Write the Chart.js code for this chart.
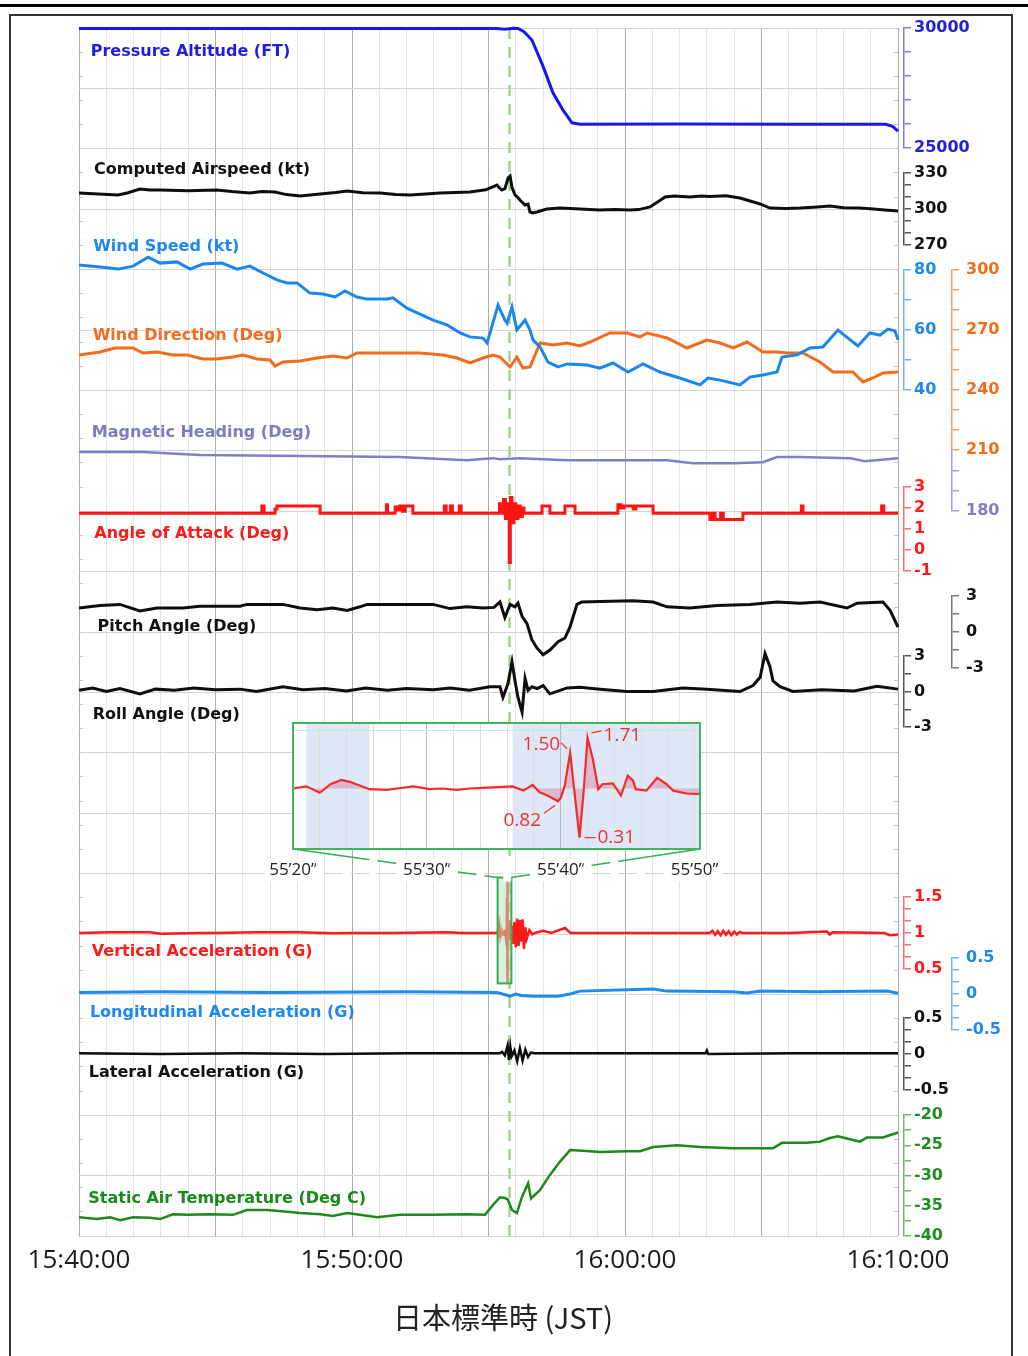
<!DOCTYPE html>
<html>
<head>
<meta charset="utf-8">
<title>FDR 15:40-16:10 JST</title>
<script src="https://cdn.jsdelivr.net/npm/chart.js@4.4.1/dist/chart.umd.min.js"></script>
<style>
	body { margin: 0; background: #fff; }
	#page { position: relative; width: 1028px; height: 1356px; overflow: hidden; }
	#rule { position: absolute; left: 0; top: 4px; width: 1028px; height: 3px; background: #000; }
	#frame { position: absolute; left: 9px; top: 14px; width: 1000px; height: 1400px; border: 2px solid #333; }
	#main { position: absolute; left: 0; top: 0; width: 1028px; height: 1356px; }
	#zoom { position: absolute; left: 262px; top: 715px; width: 470px; height: 172px; }
</style>
</head>
<body>
<div id="page">
	<div id="rule"></div>
	<div id="frame"></div>
	<div id="main"><canvas id="c1"></canvas></div>
	<div id="zoom"><canvas id="c2"></canvas></div>
</div>
<script>
// time axis: minutes after 15:40:00 JST
const timeTickMin = [0, 10, 20, 30]
const timeTickLabels = ['15:40:00', '15:50:00', '16:00:00', '16:10:00']
const eventMin = 15.77

// pressure altitude (ft)
const altT = [0, 15.3, 15.6, 15.9, 16.08, 16.3, 16.59, 17.0, 17.36, 17.73, 18.06, 18.35, 22.0, 26.0, 29.55, 29.8, 30]
const altV = [29980, 29980, 29950, 29990, 29980, 29850, 29500, 28400, 27300, 26580, 26050, 25990, 26000, 25990, 25990, 25900, 25700]
const altTicks = [25000, 26000, 27000, 28000, 29000, 30000]
const altTickLabels = [25000, 30000]

// computed airspeed (kt)
const casT = [0, 0.7, 1.43, 1.8, 2.23, 2.6, 2.97, 4.0, 5.05, 5.6, 6.26, 6.7, 7.18, 7.6, 8.1, 8.83, 9.4, 9.82, 10.4, 11.03, 11.6, 12.12, 12.7, 13.22, 13.8, 14.32, 14.9, 15.31, 15.4, 15.49, 15.6, 15.72, 15.79, 15.86, 15.97, 16.08, 16.15, 16.34, 16.45, 16.52, 16.63, 16.78, 16.89, 17.14, 17.62, 18.35, 19.08, 19.6, 20.18, 20.5, 20.92, 21.47, 21.8, 22.38, 22.8, 23.11, 23.7, 24.21, 24.95, 25.31, 25.9, 26.41, 26.9, 27.51, 28.0, 28.61, 29.1, 29.52, 30]
const casV = [313.3, 312.5, 311.7, 313.5, 316.7, 315.8, 315.8, 315.3, 315.8, 314.5, 313.3, 314.5, 314.2, 312.0, 310.8, 312.5, 313.8, 315.0, 313.5, 313.3, 312.0, 311.7, 312.5, 313.3, 313.8, 314.2, 316.0, 320.0, 317.5, 315.8, 317.0, 326.0, 327.5, 318.0, 311.7, 309.5, 307.5, 303.3, 304.0, 297.5, 296.7, 297.5, 298.3, 300.0, 300.8, 300.0, 299.2, 299.5, 299.2, 299.5, 301.7, 310.0, 310.8, 310.0, 310.8, 310.5, 311.0, 309.2, 304.2, 300.8, 300.5, 300.8, 301.5, 302.5, 301.0, 300.8, 300.0, 299.2, 298.3]
const casTicks = [270, 280, 290, 300, 310, 320, 330]
const casTickLabels = [270, 300, 330]

// wind speed (kt)
const wsT = [0, 0.77, 1.43, 1.98, 2.53, 2.97, 3.59, 4.07, 4.54, 5.24, 5.79, 6.26, 6.74, 7.25, 7.62, 7.99, 8.46, 8.94, 9.38, 9.74, 10.18, 10.55, 11.28, 11.5, 12.01, 12.49, 12.97, 13.48, 13.96, 14.32, 14.8, 14.95, 15.35, 15.6, 15.68, 15.86, 16.04, 16.34, 16.52, 16.63, 16.89, 17.18, 17.55, 17.88, 18.61, 19.08, 19.56, 20.11, 20.66, 21.28, 22.01, 22.75, 23.04, 23.48, 24.21, 24.58, 25.05, 25.57, 25.75, 26.3, 26.78, 27.25, 27.8, 28.17, 28.53, 28.97, 29.34, 29.63, 29.89, 30]
const wsV = [81.7, 81, 80.3, 81.3, 84.3, 82.3, 82.7, 80.3, 82, 82.3, 80.3, 81.3, 79, 76.7, 75.7, 75.7, 72.3, 72, 71, 73, 71, 70.3, 70.3, 70.7, 67.3, 65.3, 63.3, 61.7, 59, 57.7, 57.3, 55.7, 68.3, 63.3, 62.3, 67.7, 60, 63.3, 60, 56.7, 54.3, 49.3, 47.7, 48.7, 48.3, 47.3, 49, 46, 48.7, 46, 44, 41.7, 44, 43.3, 41.7, 44.3, 45, 46, 51, 51.7, 54, 54.3, 60, 57.3, 54.7, 59, 58.3, 60.3, 59.7, 56.7]
const wsTicks = [40, 50, 60, 70, 80]
const wsTickLabels = [40, 60, 80]

// wind direction (deg)
const wdT = [0, 0.77, 1.32, 1.98, 2.34, 2.86, 3.44, 3.96, 4.54, 5.05, 5.64, 6.01, 6.52, 7.0, 7.18, 7.47, 8.1, 8.72, 9.3, 9.82, 10.18, 10.77, 11.76, 12.49, 13.33, 13.85, 14.32, 14.8, 15.16, 15.42, 15.53, 15.79, 16.04, 16.26, 16.52, 16.89, 17.36, 17.88, 18.35, 18.72, 19.45, 20.07, 20.55, 20.81, 21.54, 22.27, 23.0, 23.48, 23.96, 24.47, 25.05, 25.57, 25.93, 26.52, 27.14, 27.62, 28.35, 28.72, 29.08, 29.45, 30]
const wdV = [257.5, 259, 261, 261, 258.5, 259, 257.5, 257.5, 255.5, 255.5, 256.5, 257.5, 255.5, 255, 252, 254, 254.5, 256, 257, 256, 258.5, 258.5, 258.5, 258.5, 257.5, 256, 253.5, 256, 257.5, 256.5, 255, 251.5, 256.5, 251, 251.5, 263.5, 262.5, 263.5, 262, 264, 268.5, 268.5, 266.5, 268.5, 266, 261, 265, 263.5, 261, 264, 259, 259, 258.5, 258.5, 254, 249, 249, 244, 246, 248.5, 249]
const wdTicks = [210, 220, 230, 240, 250, 260, 270, 280, 290, 300]
const wdTickLabels = [210, 240, 270, 300]

// magnetic heading (deg)
const hdgT = [0, 2.34, 4.43, 8.1, 11.76, 14.21, 15.16, 15.42, 16.15, 17.88, 21.54, 22.49, 23.96, 25.05, 25.57, 26.41, 28.24, 28.79, 30]
const hdgV = [209, 209, 207.5, 207, 206.5, 205, 206, 205.5, 206, 205, 205, 203.5, 203.5, 204, 206.5, 206.5, 206, 204.5, 206]
const hdgTicks = [180, 190, 200]
const hdgTickLabels = [180]

// angle of attack (deg), sampled steps
const aoaT = [0, 6.70, 6.78, 7.18, 7.25, 8.83, 11.26, 11.30, 11.58, 11.66, 11.75, 11.85, 11.95, 12.23, 13.38, 13.45, 13.60, 13.68, 13.93, 14.0, 15.40, 15.45, 15.55, 15.62, 15.70, 15.76, 15.80, 15.86, 15.93, 16.00, 16.08, 16.16, 16.24, 16.30, 16.96, 17.25, 17.80, 18.17, 19.74, 19.85, 19.95, 20.3, 20.4, 21.03, 23.11, 23.2, 23.3, 23.5, 23.6, 24.32, 26.46, 26.52, 29.40, 29.48, 30]
const aoaV = [1.75, 2.1, 1.75, 1.95, 2.1, 1.75, 2.15, 1.75, 2.05, 1.9, 2.1, 1.85, 2.1, 1.75, 2.1, 1.75, 2.1, 1.75, 2.1, 1.75, 2.2, 1.75, 2.4, 1.5, 2.2, -0.6, 2.5, 1.3, 2.2, 1.5, 2.1, 1.6, 2.0, 1.75, 2.1, 1.75, 2.1, 1.75, 2.15, 2.0, 2.1, 1.95, 2.1, 1.75, 1.45, 1.75, 1.45, 1.75, 1.45, 1.75, 2.1, 1.75, 2.1, 1.75, 1.75]
const aoaTicks = [-1, 0, 1, 2, 3]
const aoaTickLabels = [-1, 0, 1, 2, 3]

// pitch angle (deg)
const pitT = [0, 0.77, 1.5, 2.23, 2.86, 3.81, 4.43, 5.9, 6.15, 7.47, 8.1, 8.72, 9.3, 9.82, 10.29, 10.55, 12.97, 13.59, 14.21, 14.8, 15.2, 15.42, 15.6, 15.79, 15.97, 16.08, 16.23, 16.41, 16.59, 16.78, 17.0, 17.25, 17.55, 17.8, 17.99, 18.24, 18.42, 19.08, 20.29, 21.03, 21.54, 22.38, 23.37, 24.58, 25.57, 26.41, 27.14, 28.13, 28.5, 29.45, 29.71, 30]
const pitV = [2.0, 2.2, 2.3, 1.75, 2.0, 2.0, 2.15, 2.15, 2.3, 2.3, 2.0, 1.85, 2.0, 1.8, 2.1, 2.3, 2.3, 1.95, 2.1, 2.0, 2.05, 2.5, 1.2, 2.3, 2.1, 2.4, 1.3, 0.7, -0.65, -1.35, -1.9, -1.5, -0.8, -0.5, 0.45, 2.3, 2.5, 2.55, 2.6, 2.5, 2.1, 2.0, 2.2, 2.3, 2.5, 2.4, 2.5, 2.0, 2.4, 2.5, 1.8, 0.4]
const pitTicks = [-3, -1.5, 0, 1.5, 3]
const pitTickLabels = [-3, 0, 3]

// roll angle (deg)
const rolT = [0, 0.5, 1.0, 1.5, 2.23, 2.8, 3.5, 4.2, 5.0, 5.9, 6.5, 7.47, 8.2, 9.0, 9.8, 10.5, 11.3, 12.0, 12.97, 13.6, 14.3, 15.05, 15.42, 15.53, 15.71, 15.86, 15.97, 16.08, 16.23, 16.34, 16.45, 16.59, 16.78, 17.0, 17.25, 17.88, 18.35, 19.08, 20.07, 21.03, 22.12, 23.0, 24.21, 24.69, 24.95, 25.13, 25.31, 25.42, 25.68, 26.15, 27.2, 28.4, 29.23, 30]
const rolV = [0.1, 0.3, 0.0, 0.25, -0.2, 0.2, 0.1, 0.3, 0.15, 0.2, 0.0, 0.4, 0.15, 0.25, 0.05, 0.3, 0.1, 0.25, 0.15, 0.3, 0.1, 0.4, 0.4, -0.5, 0.65, 2.5, 0.9, -0.5, -1.75, 1.1, 0.1, 0.4, 0.25, 0.5, -0.2, 0.3, 0.35, 0.2, 0.0, 0.0, 0.3, 0.2, 0.0, 0.5, 1.2, 3.2, 2.1, 0.9, 0.4, 0.0, 0.15, 0.05, 0.45, 0.2]
const rolTicks = [-3, -1.5, 0, 1.5, 3]
const rolTickLabels = [-3, 0, 3]

// vertical acceleration (G), outside the zoomed window
const vaT = [0, 1.2, 2.6, 3.0, 4.4, 5.0, 6.5, 8.0, 9.3, 10.0, 11.5, 13.5, 14.0, 15.3, 15.87, 15.9, 15.95, 16.0, 16.05, 16.1, 16.15, 16.2, 16.25, 16.3, 16.35, 16.4, 16.5, 16.6, 16.7, 17.0, 17.3, 17.8, 18.0, 20.5, 23.1, 23.2, 23.3, 23.4, 23.5, 23.6, 23.7, 23.8, 23.9, 24.0, 24.1, 24.2, 24.3, 26.0, 27.4, 27.5, 27.6, 29.5, 29.7, 30]
const vaV = [1.0, 1.01, 1.01, 0.99, 1.0, 1.0, 1.01, 1.01, 0.995, 1.0, 1.0, 1.01, 1.0, 1.0, 1.10, 0.85, 1.15, 0.80, 1.20, 0.82, 1.18, 0.88, 1.19, 0.78, 1.08, 0.92, 1.04, 0.98, 1.0, 1.03, 1.0, 1.07, 1.0, 1.0, 1.0, 1.03, 0.975, 1.025, 0.97, 1.03, 0.975, 1.025, 0.97, 1.02, 0.98, 1.015, 1.0, 1.0, 1.02, 0.98, 1.01, 1.0, 0.97, 0.98]
const vaTicks = [0.5, 0.6667, 0.8333, 1, 1.1667, 1.3333, 1.5]
const vaTickLabels = [0.5, 1, 1.5]

// longitudinal acceleration (G)
const lonT = [0, 3.0, 7.0, 12.0, 15.3, 15.42, 15.79, 16.0, 16.2, 16.63, 17.55, 17.99, 18.35, 21.03, 21.54, 23.96, 24.47, 24.95, 27.0, 29.6, 30]
const lonV = [0.02, 0.03, 0.02, 0.03, 0.02, 0.01, -0.03, 0.0, -0.02, -0.03, -0.03, 0.0, 0.04, 0.07, 0.04, 0.03, 0.015, 0.04, 0.03, 0.04, 0.01]
const lonTicks = [-0.5, -0.3333, -0.1667, 0, 0.1667, 0.3333, 0.5]
const lonTickLabels = [-0.5, 0, 0.5]

// lateral acceleration (G)
const latT = [0, 3, 6, 9, 12, 15.4, 15.5, 15.6, 15.7, 15.75, 15.8, 15.85, 15.95, 16.05, 16.15, 16.25, 16.35, 16.45, 16.55, 16.7, 20, 22.95, 23.0, 23.05, 26, 30]
const latV = [0.01, 0.0, 0.01, 0.0, 0.01, 0.01, 0.03, -0.02, 0.12, -0.08, 0.10, -0.03, 0.05, -0.10, 0.08, -0.09, 0.06, -0.04, 0.02, 0.01, 0.01, 0.01, 0.05, 0.0, 0.01, 0.01]
const latTicks = [-0.5, -0.3333, -0.1667, 0, 0.1667, 0.3333, 0.5]
const latTickLabels = [-0.5, 0, 0.5]

// static air temperature (deg C)
const satT = [0, 0.66, 1.14, 1.5, 1.98, 2.6, 2.97, 3.44, 3.96, 4.8, 5.64, 6.15, 6.89, 7.62, 8.1, 8.83, 9.3, 9.82, 10.29, 10.92, 11.76, 12.97, 14.21, 14.87, 15.16, 15.42, 15.6, 15.71, 15.86, 16.04, 16.23, 16.45, 16.56, 16.89, 17.25, 17.62, 17.99, 18.46, 19.08, 20.07, 20.55, 21.03, 21.9, 22.75, 23.96, 25.42, 25.75, 26.67, 27.14, 27.51, 27.8, 28.24, 28.61, 28.86, 29.45, 30]
const satV = [-36.9, -37.2, -36.9, -37.4, -36.9, -37.0, -37.2, -36.4, -36.5, -36.4, -36.5, -35.7, -35.7, -36.0, -36.2, -36.4, -36.7, -36.2, -36.5, -36.9, -36.5, -36.5, -36.4, -36.5, -34.9, -33.6, -33.7, -34.0, -35.7, -36.2, -33.5, -31.3, -33.8, -32.4, -29.9, -27.7, -25.8, -25.9, -26.1, -26.0, -26.0, -25.3, -25.0, -25.3, -25.5, -25.5, -24.6, -24.6, -24.4, -23.8, -23.5, -24.0, -24.4, -23.7, -23.7, -22.9]
const satTicks = [-40, -37.5, -35, -32.5, -30, -27.5, -25, -22.5, -20]
const satTickLabels = [-40, -35, -30, -25, -20]

// zoomed vertical acceleration, seconds after 15:55:00
const insetBaseMin = 15
const insetS = [20.0, 21.0, 22.0, 22.8, 23.6, 24.3, 25.7, 27.0, 28.2, 29.0, 30.2, 31.2, 32.2, 33.2, 34.2, 35.3, 36.4, 37.2, 37.9, 38.4, 39.0, 39.8, 40.0, 40.3, 40.7, 41.0, 41.4, 41.7, 42.0, 42.4, 42.8, 43.1, 43.9, 44.5, 45.0, 45.4, 45.6, 46.4, 47.2, 47.9, 48.4, 49.4, 50.4]
const insetV = [1.00, 1.03, 0.94, 1.06, 1.12, 1.09, 0.99, 0.98, 1.01, 1.03, 0.99, 1.00, 0.98, 1.00, 1.01, 1.02, 1.03, 0.97, 1.05, 0.95, 0.90, 0.82, 0.87, 1.04, 1.50, 0.99, 0.31, 0.94, 1.71, 1.41, 0.99, 1.06, 1.07, 0.90, 1.18, 1.11, 0.99, 0.97, 1.15, 1.06, 0.97, 0.93, 0.92]
const insetMarks = [1.50, 1.71, 0.82, 0.31]
const insetTickS = [20, 30, 40, 50]
const insetTickLabels = ['55’20”', '55’30”', '55’40”', '55’50”']
const insetGridS = [20, 22, 24, 26, 28, 30, 32, 34, 36, 38, 40, 42, 44, 46, 48, 50]
const insetGridG = [1.82]
const insetShadeS = [[21.0, 25.7], [36.4, 50.4]]
const insetMin = 20, insetMax = 50.4, insetYMin = 0.15, insetYMax = 1.92
const zoomBoxG = [0.30, 1.77]

// ============================================================================

Chart.defaults.font.family = 'DejaVu Sans'
Chart.defaults.animation = false

const pts = (t, v) => t.map((x, i) => ({x, y: v[i]}))
const range = n => Array.from({length: n + 1}, (_, i) => i)

// label placement of the series names: [text, colour, minute, grid row]
const names = [
	['Pressure Altitude (FT)', '#1e1ee0', 0.43, 0.39],
	['Computed Airspeed (kt)', '#111', 0.55, 2.35],
	['Wind Speed (kt)', '#1e88f0', 0.52, 3.62],
	['Wind Direction (Deg)', '#f26c1c', 0.50, 5.10],
	['Magnetic Heading (Deg)', '#7c7cc2', 0.47, 6.70],
	['Angle of Attack (Deg)', '#ff1a1a', 0.56, 8.37],
	['Pitch Angle (Deg)', '#111', 0.68, 9.91],
	['Roll Angle (Deg)', '#111', 0.50, 11.37],
	['Vertical Acceleration (G)', '#ff1a1a', 0.47, 15.29],
	['Longitudinal Acceleration (G)', '#1e88f0', 0.40, 16.31],
	['Lateral Acceleration (G)', '#111', 0.36, 17.30],
	['Static Air Temperature (Deg C)', '#188a18', 0.34, 19.38],
]

// callout style per inset mark: text align, text offset, leader offsets
const markStyle = [
	{align: 'right', t: [-10, -8], l: [-9, -10, -3, -4]},
	{align: 'left', t: [16, -2], l: [4, -5, 14, -7]},
	{align: 'right', t: [-17, 19], l: [-14, 12, -3, 4]},
	{align: 'left', t: [18, 0], l: [5, 0, 16, 0]},
]

const zoomDecor = {
	id: 'zoomDecor',
	beforeDraw(chart) {
		const {ctx, chartArea: a, scales: {x}} = chart
		ctx.save()
		ctx.fillStyle = '#fff'
		ctx.fillRect(a.left, a.top, a.width, a.height)
		ctx.fillStyle = '#dde7f5'
		insetShadeS.forEach(([s0, s1]) => {
			const p0 = x.getPixelForValue(s0), p1 = x.getPixelForValue(s1)
			ctx.fillRect(p0, a.top, p1 - p0, a.height)
		})
		ctx.restore()
	},
	afterDatasetsDraw(chart) {
		const {ctx, chartArea: a, scales: {x, y}} = chart
		ctx.save()
		ctx.strokeStyle = '#3db65c'
		ctx.lineWidth = 2
		ctx.strokeRect(a.left, a.top, a.width, a.height)
		ctx.fillStyle = ctx.strokeStyle = '#f03030'
		ctx.lineWidth = 1.2
		ctx.font = '19px "Open Sans"'
		ctx.textBaseline = 'middle'
		insetMarks.forEach((v, k) => {
			const i = insetV.indexOf(v)
			const px = x.getPixelForValue(insetS[i]), py = y.getPixelForValue(v)
			const o = markStyle[k]
			ctx.beginPath()
			ctx.moveTo(px + o.l[0], py + o.l[1])
			ctx.lineTo(px + o.l[2], py + o.l[3])
			ctx.stroke()
			ctx.textAlign = o.align
			ctx.fillText(v.toFixed(2), px + o.t[0], py + o.t[1])
		})
		ctx.restore()
	}
}

const zoomWrap = document.getElementById('zoom')
const zoomChart = new Chart(document.getElementById('c2'), {
	type: 'line',
	data: {
		datasets: [{
			data: pts(insetS, insetV),
			borderColor: '#f22b2b',
			borderWidth: 2.2,
			pointRadius: 0,
			tension: 0,
			fill: {value: 1},
			backgroundColor: 'rgba(214,86,128,0.32)',
		}]
	},
	options: {
		responsive: true,
		maintainAspectRatio: false,
		events: [],
		layout: {padding: {left: 31, right: 32, top: 8, bottom: 0}},
		plugins: {legend: {display: false}, tooltip: {enabled: false}},
		scales: {
			x: {
				type: 'linear', min: insetMin, max: insetMax,
				afterBuildTicks: s => { s.ticks = insetGridS.map(value => ({value})) },
				afterFit: s => { s.height = 38; s.paddingLeft = 0; s.paddingRight = 0 },
				border: {display: false},
				grid: {drawTicks: false, color: c => (c.tick.value === 30 || c.tick.value === 40) ? '#b8b8b8' : '#dedede'},
				ticks: {
					autoSkip: false, maxRotation: 0, padding: 11, color: '#222',
					font: {family: 'Open Sans', size: 17},
					showLabelBackdrop: true, backdropColor: '#fff', backdropPadding: {x: 4, y: 1},
					callback: v => { const k = insetTickS.indexOf(v); return k < 0 ? '' : insetTickLabels[k] }
				}
			},
			y: {
				min: insetYMin, max: insetYMax,
				afterBuildTicks: s => { s.ticks = insetGridG.map(value => ({value})) },
				afterFit: s => { s.width = 0 },
				border: {display: false},
				ticks: {display: false},
				grid: {drawTicks: false, color: '#dcdcdc'}
			}
		}
	},
	plugins: [zoomDecor]
})

// right-hand bracket axes
const axes = {
	yAlt: {h: 120, min: 25000, max: 30000, ticks: altTicks, labels: altTickLabels, color: '#2121d4', line: '#7a7af2'},
	yCas: {h: 72, min: 270, max: 330, ticks: casTicks, labels: casTickLabels, color: '#111', line: '#555'},
	yWs: {h: 120, min: 40, max: 80, ticks: wsTicks, labels: wsTickLabels, color: '#1e88f0', line: '#6fb1f2'},
	yAoa: {h: 84, min: -1, max: 3, ticks: aoaTicks, labels: aoaTickLabels, color: '#ff1a1a', line: '#ff6a6a'},
	yRol: {h: 71, min: -3, max: 3, ticks: rolTicks, labels: rolTickLabels, color: '#111', line: '#555'},
	yVa: {h: 72, min: 0.5, max: 1.5, ticks: vaTicks, labels: vaTickLabels, color: '#ff1a1a', line: '#ff6a6a'},
	yLat: {h: 72, min: -0.5, max: 0.5, ticks: latTicks, labels: latTickLabels, color: '#111', line: '#555'},
	ySat: {h: 121, min: -40, max: -20, ticks: satTicks, labels: satTickLabels, color: '#1f8c1f', line: '#6ab86a'},
	yWd: {h: 180, min: 210, max: 300, ticks: wdTicks, labels: wdTickLabels, color: '#f26c1c', line: '#f5a06a'},
	yHdg: {h: 61, min: 180, max: 210, ticks: hdgTicks, labels: hdgTickLabels, color: '#8080c4', line: '#a0a0d4'},
	yPit: {h: 72, min: -3, max: 3, ticks: pitTicks, labels: pitTickLabels, color: '#111', line: '#777'},
	yLon: {h: 72, min: -0.5, max: 0.5, ticks: lonTicks, labels: lonTickLabels, color: '#1e88f0', line: '#6fb1f2'},
}
// columns top to bottom, numbers are empty gaps (px)
const columnA = ['yAlt', 25, 'yCas', 25, 'yWs', 97, 'yAoa', 85, 'yRol', 170, 'yVa', 49, 'yLat', 25, 'ySat']
const columnB = [242, 'yWd', 'yHdg', 85, 'yPit', 290, 'yLon', 206]

const scales = {
	x: {
		type: 'linear', min: 0, max: 30, position: 'bottom',
		afterBuildTicks: s => { s.ticks = range(30).map(value => ({value})) },
		afterFit: s => { s.height = 120 },
		border: {display: false},
		grid: {drawTicks: false, color: c => c.tick.value % 5 === 0 ? '#ababab' : '#e4e4e4'},
		ticks: {
			autoSkip: false, maxRotation: 0, padding: 9, color: '#1a1a1a',
			font: {family: 'Open Sans', size: 26},
			callback: v => { const k = timeTickMin.indexOf(v); return k < 0 ? '' : timeTickLabels[k] }
		},
		title: {display: true, text: '\u3000日本標準時 (JST)', color: '#222', font: {family: 'Noto Sans CJK JP', size: 29}, padding: {top: 0, bottom: 21}}
	},
	yg: {
		position: 'left', min: 0, max: 20, reverse: true,
		afterBuildTicks: s => { s.ticks = range(20).map(value => ({value})) },
		afterFit: s => { s.width = 0 },
		border: {display: false}, ticks: {display: false},
		grid: {drawTicks: false, color: '#d4d4d4'}
	},
	ym: {
		position: 'left', min: 0, max: 50,
		afterBuildTicks: s => { s.ticks = range(50).map(value => ({value})) },
		afterFit: s => { s.width = 0 },
		border: {display: false}, ticks: {display: false},
		grid: {drawOnChartArea: false, tickLength: -4, color: '#c8c8c8'}
	},
	ysp: {
		position: 'right', weight: 0, min: 0, max: 50,
		afterBuildTicks: s => { s.ticks = range(50).map(value => ({value})) },
		afterFit: s => { s.width = 6 },
		border: {display: false}, ticks: {display: false},
		grid: {drawOnChartArea: false, tickLength: -4, color: '#c8c8c8'}
	},
}

const buildColumn = (order, col, weight, width, pad) => order.forEach((item, k) => {
	if (typeof item === 'number') {
		scales['gap' + col + k] = {
			position: 'right', stack: col, stackWeight: item, weight,
			afterFit: s => { s.width = width },
			border: {display: false}, grid: {display: false}, ticks: {display: false}
		}
		return
	}
	const o = axes[item]
	scales[item] = {
		position: 'right', stack: col, stackWeight: o.h, weight, min: o.min, max: o.max,
		afterBuildTicks: s => { s.ticks = o.ticks.map(value => ({value})) },
		afterFit: s => { s.width = width },
		border: {color: o.line, width: 1.5},
		grid: {drawOnChartArea: false, tickLength: 7, color: o.line, lineWidth: 1.5},
		ticks: {
			autoSkip: false, padding: pad, color: o.color,
			font: {size: 16, weight: 'bold'},
			callback: v => o.labels.includes(v) ? String(v) : ''
		}
	}
})
buildColumn(columnA, 'A', 1, 48, 3)
buildColumn(columnB, 'B', 2, 60, 7)

const vaAll = pts(vaT, vaV)
	.concat(insetS.map((s, i) => ({x: insetBaseMin + s / 60, y: insetV[i]})))
	.sort((a, b) => a.x - b.x)

const series = [
	['yAlt', pts(altT, altV), '#1616ee', 3],
	['yCas', pts(casT, casV), '#0e0e0e', 3],
	['yWs', pts(wsT, wsV), '#1c86f0', 3],
	['yWd', pts(wdT, wdV), '#f36b1b', 3],
	['yHdg', pts(hdgT, hdgV), '#7f7fc6', 2.5],
	['yAoa', pts(aoaT, aoaV), '#ff1414', 3],
	['yPit', pts(pitT, pitV), '#0e0e0e', 3],
	['yRol', pts(rolT, rolV), '#0e0e0e', 3],
	['yVa', vaAll, '#ff1a1a', 2.5],
	['yLon', pts(lonT, lonV), '#1c8cf0', 3],
	['yLat', pts(latT, latV), '#0e0e0e', 2.5],
	['ySat', pts(satT, satV), '#1a8a1a', 2.5],
]

const mainDecor = {
	id: 'mainDecor',
	afterLayout(chart) {
		// let the bracket labels run past their narrow column instead of being clipped
		Object.keys(axes).forEach(id => { chart.scales[id].right = chart.width })
	},
	beforeDatasetsDraw(chart) {
		const {ctx, chartArea: a, scales: {x}} = chart
		const px = x.getPixelForValue(eventMin)
		ctx.save()
		ctx.strokeStyle = '#a2d48b'
		ctx.lineWidth = 2.5
		ctx.setLineDash([11, 8])
		ctx.beginPath()
		ctx.moveTo(px, a.top)
		ctx.lineTo(px, a.bottom)
		ctx.stroke()
		ctx.restore()
	},
	afterDatasetsDraw(chart) {
		const {ctx, scales} = chart
		const x = scales.x, g = scales.yg, va = scales.yVa
		ctx.save()
		ctx.font = 'bold 16px "DejaVu Sans"'
		ctx.textBaseline = 'middle'
		ctx.textAlign = 'left'
		names.forEach(([text, color, m, row]) => {
			ctx.fillStyle = color
			ctx.fillText(text, x.getPixelForValue(m), g.getPixelForValue(row))
		})
		// small box marking the zoomed window
		const bx0 = x.getPixelForValue(insetBaseMin + insetMin / 60)
		const bx1 = x.getPixelForValue(insetBaseMin + insetMax / 60)
		const by0 = va.getPixelForValue(zoomBoxG[1]), by1 = va.getPixelForValue(zoomBoxG[0])
		ctx.fillStyle = 'rgba(188,226,188,0.55)'
		ctx.fillRect(bx0, by0, bx1 - bx0, by1 - by0)
		ctx.strokeStyle = '#34ad55'
		ctx.lineWidth = 2
		ctx.strokeRect(bx0, by0, bx1 - bx0, by1 - by0)
		// connectors up to the zoom panel
		const za = zoomChart.chartArea, ox = zoomWrap.offsetLeft, oy = zoomWrap.offsetTop
		ctx.lineWidth = 1.5
		ctx.beginPath()
		ctx.moveTo(ox + za.left, oy + za.bottom)
		ctx.lineTo(bx0, by0)
		ctx.moveTo(ox + za.right, oy + za.bottom)
		ctx.lineTo(bx1, by0)
		ctx.stroke()
		ctx.restore()
	}
}

new Chart(document.getElementById('c1'), {
	type: 'line',
	data: {
		datasets: series.map(([id, data, color, w]) => ({
			yAxisID: id,
			data,
			borderColor: color,
			borderWidth: w,
			pointRadius: 0,
			tension: 0,
			fill: false,
			clip: false,
			stepped: id === 'yAoa',
		}))
	},
	options: {
		responsive: true,
		maintainAspectRatio: false,
		events: [],
		layout: {padding: {left: 79, right: 16, top: 28, bottom: 0}},
		plugins: {legend: {display: false}, tooltip: {enabled: false}},
		scales
	},
	plugins: [mainDecor]
})
</script>
</body>
</html>
